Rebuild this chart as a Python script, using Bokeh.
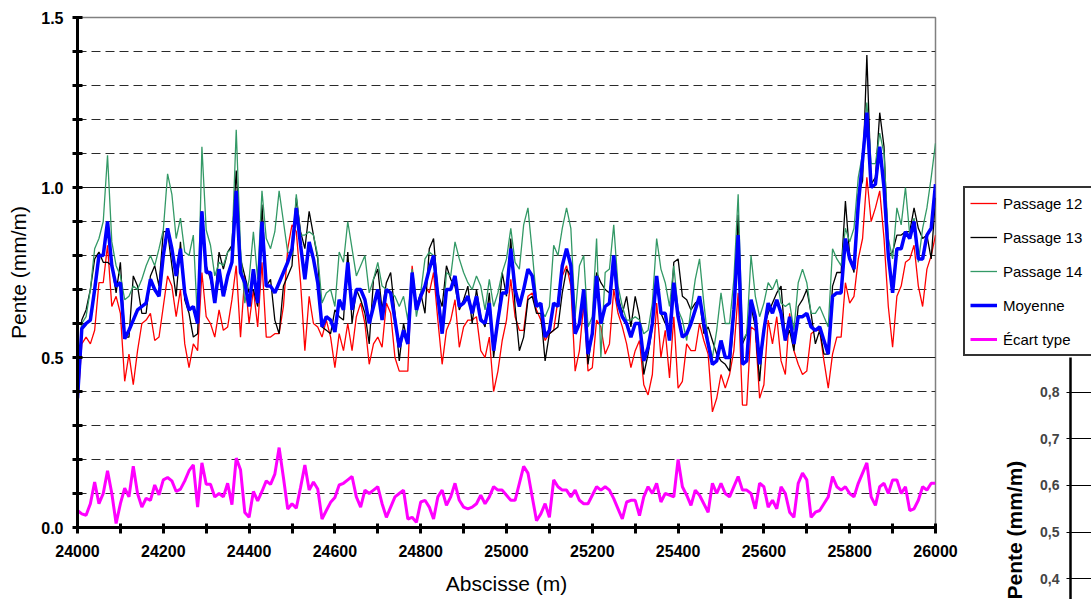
from bokeh.plotting import figure
from bokeh.models import (ColumnDataSource, FixedTicker, Range1d, Legend, LegendItem,
                          NumeralTickFormatter, CustomJSTickFormatter, Title)
from bokeh.layouts import row, column
from bokeh.embed import file_html
from bokeh.resources import INLINE

FONT = "Liberation Sans"

# Abscisse du profil, un point tous les 10 m
abscisse = list(range(24000, 26001, 10))

passage_12 = [
    0.35, 0.54, 0.56, 0.54, 0.58, 0.72, 0.72, 0.83, 0.65, 0.68,
    0.63, 0.43, 0.51, 0.42, 0.52, 0.60, 0.61, 0.63, 0.55, 0.56,
    0.65, 0.74, 0.71, 0.62, 0.70, 0.54, 0.47, 0.54, 0.52, 0.75,
    0.62, 0.60, 0.56, 0.64, 0.58, 0.59, 0.67, 0.77, 0.56, 0.74,
    0.60, 0.70, 0.59, 0.78, 0.56, 0.56, 0.57, 0.57, 0.65, 0.82,
    0.89, 0.87, 0.72, 0.52, 0.68, 0.60, 0.59, 0.56, 0.61, 0.56,
    0.47, 0.57, 0.52, 0.60, 0.52, 0.62, 0.66, 0.60, 0.48, 0.54,
    0.56, 0.53, 0.66, 0.63, 0.50, 0.46, 0.46, 0.46, 0.77, 0.65,
    0.67, 0.71, 0.69, 0.75, 0.61, 0.48, 0.58, 0.61, 0.67, 0.53,
    0.59, 0.61, 0.61, 0.62, 0.52, 0.50, 0.56, 0.40, 0.46, 0.55,
    0.61, 0.73, 0.62, 0.58, 0.58, 0.68, 0.69, 0.64, 0.61, 0.55,
    0.57, 0.58, 0.67, 0.74, 0.77, 0.71, 0.46, 0.52, 0.66, 0.46,
    0.47, 0.61, 0.59, 0.51, 0.54, 0.70, 0.63, 0.59, 0.54, 0.47,
    0.52, 0.55, 0.42, 0.39, 0.45, 0.66, 0.50, 0.58, 0.44, 0.62,
    0.41, 0.43, 0.54, 0.52, 0.52, 0.60, 0.55, 0.51, 0.34, 0.38,
    0.45, 0.41, 0.45, 0.52, 0.69, 0.36, 0.36, 0.59, 0.58, 0.38,
    0.42, 0.61, 0.54, 0.62, 0.49, 0.45, 0.63, 0.52, 0.48, 0.45,
    0.46, 0.57, 0.58, 0.58, 0.49, 0.41, 0.51, 0.56, 0.56, 0.72,
    0.66, 0.68, 0.79, 0.85, 1.03, 0.90, 0.94, 0.99, 0.85, 0.65,
    0.53, 0.68, 0.71, 0.78, 0.79, 0.83, 0.71, 0.65, 0.76, 0.80,
    0.86,
]

passage_13 = [
    0.35, 0.61, 0.64, 0.70, 0.79, 0.81, 0.78, 0.78, 0.77, 0.69,
    0.78, 0.56, 0.56, 0.74, 0.71, 0.63, 0.63, 0.74, 0.77, 0.71,
    0.87, 0.87, 0.77, 0.68, 0.84, 0.67, 0.63, 0.56, 0.57, 0.93,
    0.77, 0.73, 0.67, 0.81, 0.76, 0.81, 0.83, 1.05, 0.79, 0.74,
    0.69, 0.70, 0.65, 0.95, 0.71, 0.73, 0.61, 0.57, 0.71, 0.74,
    0.77, 0.97, 0.87, 0.82, 0.93, 0.86, 0.79, 0.59, 0.58, 0.57,
    0.64, 0.62, 0.61, 0.81, 0.60, 0.70, 0.67, 0.63, 0.54, 0.73,
    0.76, 0.64, 0.72, 0.75, 0.63, 0.49, 0.60, 0.54, 0.75, 0.65,
    0.69, 0.63, 0.82, 0.85, 0.69, 0.65, 0.77, 0.73, 0.71, 0.64,
    0.67, 0.71, 0.60, 0.70, 0.62, 0.59, 0.69, 0.50, 0.61, 0.75,
    0.68, 0.85, 0.65, 0.52, 0.56, 0.67, 0.68, 0.63, 0.63, 0.49,
    0.57, 0.58, 0.59, 0.69, 0.76, 0.74, 0.58, 0.60, 0.68, 0.48,
    0.58, 0.75, 0.72, 0.70, 0.69, 0.77, 0.68, 0.63, 0.68, 0.59,
    0.68, 0.62, 0.45, 0.51, 0.59, 0.72, 0.63, 0.60, 0.58, 0.78,
    0.79, 0.68, 0.67, 0.64, 0.66, 0.67, 0.57, 0.59, 0.55, 0.51,
    0.49, 0.48, 0.46, 0.62, 0.92, 0.54, 0.57, 0.65, 0.59, 0.43,
    0.59, 0.63, 0.66, 0.69, 0.71, 0.55, 0.58, 0.52, 0.65, 0.67,
    0.70, 0.63, 0.54, 0.58, 0.51, 0.51, 0.71, 0.75, 0.75, 0.96,
    0.80, 0.75, 0.98, 1.02, 1.39, 1.01, 1.03, 1.22, 1.12, 0.80,
    0.81, 0.86, 0.86, 0.87, 0.87, 0.94, 0.88, 0.85, 0.86, 0.79,
    0.97,
]

passage_14 = [
    0.35, 0.60, 0.62, 0.70, 0.82, 0.85, 0.90, 1.095, 0.84, 0.77,
    0.74, 0.67, 0.68, 0.71, 0.70, 0.73, 0.77, 0.80, 0.77, 0.82,
    0.875, 1.04, 0.98, 0.85, 0.91, 0.81, 0.80, 0.86, 0.60, 1.12,
    0.875, 0.83, 0.74, 0.78, 0.77, 0.81, 0.82, 1.17, 0.82, 0.66,
    0.73, 0.87, 0.73, 0.99, 0.85, 0.82, 0.87, 0.99, 0.90, 0.81,
    0.80, 0.98, 0.86, 0.86, 0.87, 0.86, 0.80, 0.66, 0.69, 0.70,
    0.65, 0.81, 0.78, 0.90, 0.82, 0.74, 0.77, 0.80, 0.69, 0.73,
    0.78, 0.71, 0.70, 0.69, 0.68, 0.65, 0.68, 0.61, 0.76, 0.62,
    0.69, 0.79, 0.81, 0.80, 0.69, 0.59, 0.75, 0.74, 0.84, 0.79,
    0.75, 0.72, 0.70, 0.74, 0.71, 0.64, 0.73, 0.65, 0.69, 0.75,
    0.79, 0.88, 0.78, 0.76, 0.89, 0.94, 0.81, 0.67, 0.64, 0.62,
    0.65, 0.83, 0.80, 0.88, 0.94, 0.88, 0.62, 0.77, 0.80, 0.59,
    0.62, 0.85, 0.50, 0.75, 0.76, 0.89, 0.71, 0.65, 0.61, 0.61,
    0.62, 0.61, 0.57, 0.58, 0.66, 0.85, 0.76, 0.72, 0.65, 0.77,
    0.64, 0.61, 0.55, 0.64, 0.73, 0.79, 0.66, 0.55, 0.50, 0.58,
    0.69, 0.60, 0.60, 0.73, 0.98, 0.55, 0.57, 0.80, 0.68, 0.62,
    0.66, 0.72, 0.70, 0.73, 0.66, 0.65, 0.66, 0.58, 0.72, 0.76,
    0.72, 0.63, 0.63, 0.65, 0.62, 0.59, 0.82, 0.79, 0.77, 0.88,
    0.84, 0.88, 1.03, 1.10, 1.25, 1.07, 1.07, 1.16, 1.10, 0.85,
    0.79, 0.94, 0.89, 1.00, 0.86, 0.91, 0.78, 0.88, 0.94, 1.03,
    1.13,
]

moyenne = [
    0.38, 0.585, 0.60, 0.61, 0.70, 0.80, 0.80, 0.90, 0.77, 0.71,
    0.72, 0.555, 0.58, 0.61, 0.64, 0.65, 0.66, 0.73, 0.70, 0.68,
    0.80, 0.88, 0.82, 0.74, 0.82, 0.69, 0.64, 0.65, 0.60, 0.93,
    0.75, 0.75, 0.66, 0.76, 0.68, 0.74, 0.78, 0.99, 0.75, 0.72,
    0.65, 0.76, 0.66, 0.90, 0.71, 0.71, 0.69, 0.72, 0.75, 0.78,
    0.82, 0.94, 0.83, 0.73, 0.84, 0.79, 0.72, 0.59, 0.62, 0.61,
    0.575, 0.67, 0.64, 0.78, 0.64, 0.70, 0.70, 0.67, 0.60, 0.65,
    0.70, 0.61, 0.70, 0.69, 0.61, 0.53, 0.58, 0.54, 0.75, 0.64,
    0.68, 0.71, 0.76, 0.80, 0.68, 0.57, 0.70, 0.70, 0.74, 0.65,
    0.66, 0.68, 0.63, 0.68, 0.61, 0.60, 0.66, 0.52, 0.61, 0.69,
    0.69, 0.82, 0.70, 0.65, 0.70, 0.76, 0.74, 0.65, 0.66, 0.56,
    0.58, 0.66, 0.65, 0.77, 0.82, 0.77, 0.57, 0.60, 0.70, 0.51,
    0.57, 0.74, 0.60, 0.65, 0.66, 0.80, 0.66, 0.62, 0.60, 0.56,
    0.60, 0.60, 0.49, 0.53, 0.60, 0.74, 0.63, 0.63, 0.55, 0.72,
    0.62, 0.56, 0.57, 0.60, 0.64, 0.68, 0.60, 0.54, 0.48, 0.49,
    0.55, 0.50, 0.50, 0.64, 0.86, 0.48, 0.49, 0.67, 0.62, 0.48,
    0.58, 0.66, 0.63, 0.67, 0.63, 0.55, 0.62, 0.54, 0.62, 0.62,
    0.63, 0.59, 0.58, 0.59, 0.55, 0.51, 0.68, 0.69, 0.69, 0.85,
    0.79, 0.76, 0.95, 1.08, 1.22, 1.00, 1.01, 1.12, 1.00, 0.80,
    0.69, 0.82, 0.82, 0.87, 0.85, 0.90, 0.79, 0.79, 0.86, 0.88,
    1.01,
]

ecart_type = [
    0.05, 0.04, 0.036, 0.07, 0.134, 0.07, 0.10, 0.167, 0.10, 0.012,
    0.07, 0.116, 0.09, 0.18, 0.10, 0.06, 0.086, 0.08, 0.125, 0.096,
    0.14, 0.147, 0.137, 0.106, 0.113, 0.137, 0.167, 0.184, 0.06, 0.19,
    0.127, 0.127, 0.09, 0.10, 0.09, 0.13, 0.067, 0.204, 0.17, 0.044,
    0.03, 0.106, 0.078, 0.106, 0.137, 0.127, 0.157, 0.235, 0.147, 0.054,
    0.07, 0.057, 0.118, 0.184, 0.11, 0.134, 0.113, 0.025, 0.05, 0.074,
    0.088, 0.125, 0.13, 0.14, 0.15, 0.09, 0.06, 0.11, 0.10, 0.11,
    0.12, 0.07, 0.03, 0.06, 0.09, 0.10, 0.11, 0.025, 0.03, 0.015,
    0.075, 0.08, 0.06, 0.025, 0.09, 0.11, 0.065, 0.09, 0.13, 0.08,
    0.06, 0.055, 0.06, 0.07, 0.095, 0.07, 0.09, 0.12, 0.11, 0.11,
    0.095, 0.08, 0.08, 0.13, 0.18, 0.16, 0.09, 0.02, 0.04, 0.07,
    0.03, 0.14, 0.12, 0.11, 0.11, 0.09, 0.11, 0.08, 0.07, 0.07,
    0.095, 0.12, 0.11, 0.12, 0.11, 0.085, 0.055, 0.025, 0.075, 0.08,
    0.08, 0.035, 0.09, 0.12, 0.10, 0.13, 0.075, 0.10, 0.095, 0.09,
    0.20, 0.12, 0.095, 0.065, 0.11, 0.095, 0.07, 0.045, 0.13, 0.10,
    0.13, 0.10, 0.09, 0.12, 0.15, 0.11, 0.11, 0.10, 0.055, 0.13,
    0.12, 0.06, 0.08, 0.055, 0.12, 0.10, 0.045, 0.03, 0.13, 0.16,
    0.14, 0.03, 0.045, 0.05, 0.07, 0.09, 0.15, 0.12, 0.11, 0.12,
    0.10, 0.09, 0.13, 0.16, 0.19, 0.09, 0.065, 0.12, 0.13, 0.10,
    0.14, 0.14, 0.10, 0.12, 0.05, 0.055, 0.08, 0.12, 0.11, 0.13,
    0.13,
]

# Libellés de la légende et styles des séries
series = [
    ("p12", "Passage 12", "#FF0000", 1.3),
    ("p13", "Passage 13", "#000000", 1.3),
    ("p14", "Passage 14", "#339966", 1.3),
    ("moy", "Moyenne", "#0000FF", 3.5),
    ("ect", "Écart type", "#FF00FF", 3.0),
]

y_major = [0.0, 0.5, 1.0, 1.5]
y_minor = [0.1, 0.2, 0.3, 0.4, 0.6, 0.7, 0.8, 0.9, 1.1, 1.2, 1.3, 1.4]
x_major = [24000, 24200, 24400, 24600, 24800, 25000, 25200, 25400, 25600, 25800, 26000]
x_minor = [24100, 24300, 24500, 24700, 24900, 25100, 25300, 25500, 25700, 25900]
zoom_ticks = [0.4, 0.5, 0.6, 0.7, 0.8]

source = ColumnDataSource(dict(x=abscisse, p12=passage_12, p13=passage_13,
                               p14=passage_14, moy=moyenne, ect=ecart_type))

# ---- graphique principal ----
p = figure(width=962, height=599, x_range=Range1d(24000, 26000), y_range=Range1d(0, 1.5),
           output_backend="svg", toolbar_location=None, frame_align=False,
           min_border_left=77, min_border_right=27, min_border_top=17, min_border_bottom=72)
p.background_fill_color = "white"
p.border_fill_color = "white"
p.outline_line_color = "#808080"
p.outline_line_width = 1.5

for col, name, color, width in series:
    p.line("x", col, source=source, line_color=color, line_width=width)

p.xaxis.ticker = FixedTicker(ticks=x_major, minor_ticks=x_minor)
p.xaxis.formatter = NumeralTickFormatter(format="0")
p.yaxis.ticker = FixedTicker(ticks=y_major, minor_ticks=y_minor)
p.yaxis.formatter = NumeralTickFormatter(format="0.0")

for ax in (p.xaxis, p.yaxis):
    ax.axis_line_width = 3
    ax.axis_line_color = "black"
    ax.major_tick_line_width = 3
    ax.minor_tick_line_width = 3
    ax.major_tick_line_color = "black"
    ax.minor_tick_line_color = "black"
    ax.major_label_text_font = FONT
    ax.major_label_text_font_size = "16px"
    ax.major_label_text_font_style = "bold"
    ax.major_label_text_color = "black"
    ax.axis_label_text_font = FONT
    ax.axis_label_text_font_size = "21px"
    ax.axis_label_text_font_style = "normal"
    ax.axis_label_text_color = "black"

p.xaxis.major_tick_in = 4
p.xaxis.major_tick_out = 6
p.xaxis.minor_tick_in = 4
p.xaxis.minor_tick_out = 6
p.xaxis.major_label_standoff = 11
p.xaxis.axis_label = "Abscisse (m)"
p.xaxis.axis_label_standoff = 12

p.yaxis.major_tick_in = 5
p.yaxis.major_tick_out = 5
p.yaxis.minor_tick_in = 5
p.yaxis.minor_tick_out = 5
p.yaxis.major_label_standoff = 9
p.yaxis.axis_label = "Pente (mm/m)"
p.yaxis.axis_label_standoff = 8

p.xgrid.visible = False
p.ygrid.grid_line_color = "#1a1a1a"
p.ygrid.grid_line_width = 1
p.ygrid.minor_grid_line_color = "#2a2a2a"
p.ygrid.minor_grid_line_width = 1
p.ygrid.minor_grid_line_dash = "9 5"

# ---- légende (colonne de droite) ----
# Les séries y sont retracées hors de la fenêtre visible, uniquement pour les pictogrammes.
leg = figure(width=129, height=357, x_range=Range1d(0, 1), y_range=Range1d(0, 1),
             x_axis_type=None, y_axis_type=None, output_backend="svg",
             toolbar_location=None, frame_align=False, min_border_left=0,
             min_border_right=0, min_border_top=0, min_border_bottom=0)
leg.outline_line_color = None
leg.grid.visible = False
items = []
for col, name, color, width in series:
    r = leg.line("x", col, source=source, line_color=color, line_width=width)
    items.append(LegendItem(label=name, renderers=[r]))
legend = Legend(items=items, location=(1, 1), orientation="vertical",
                glyph_width=27, glyph_height=20, label_height=20, label_width=100,
                label_standoff=6, spacing=14, padding=5, margin=0,
                border_line_color="#333333", border_line_width=2, border_line_alpha=1.0,
                background_fill_color="white", background_fill_alpha=1.0,
                label_text_font=FONT, label_text_font_size="15px",
                label_text_color="black")
leg.add_layout(legend, "center")

# ---- graphique voisin (axe seul visible) ----
z = figure(width=129, height=242, x_range=Range1d(0, 1), y_range=Range1d(0.355, 0.875),
           x_axis_type=None, output_backend="svg", toolbar_location=None, frame_align=False,
           min_border_left=108, min_border_right=0, min_border_top=0, min_border_bottom=0)
z.outline_line_color = None
z.yaxis.ticker = FixedTicker(ticks=zoom_ticks)
z.yaxis.formatter = CustomJSTickFormatter(code="return tick.toFixed(1).replace('.', ',');")
z.yaxis.axis_line_width = 2.5
z.yaxis.axis_line_color = "black"
z.yaxis.major_tick_in = 0
z.yaxis.major_tick_out = 4
z.yaxis.major_tick_line_width = 1
z.yaxis.minor_tick_line_color = None
z.yaxis.major_label_text_font = FONT
z.yaxis.major_label_text_font_size = "14px"
z.yaxis.major_label_text_font_style = "bold"
z.yaxis.major_label_standoff = 7
z.xgrid.visible = False
z.ygrid.grid_line_color = "black"
z.ygrid.grid_line_width = 1
z.add_layout(Title(text="Pente (mm/m)", align="left", text_font=FONT,
                   text_font_size="21px", text_font_style="bold",
                   text_color="black", standoff=24), "left")

layout = row(p, column(leg, z))

with open("out.html", "w") as f:
    f.write(file_html(layout, INLINE))
